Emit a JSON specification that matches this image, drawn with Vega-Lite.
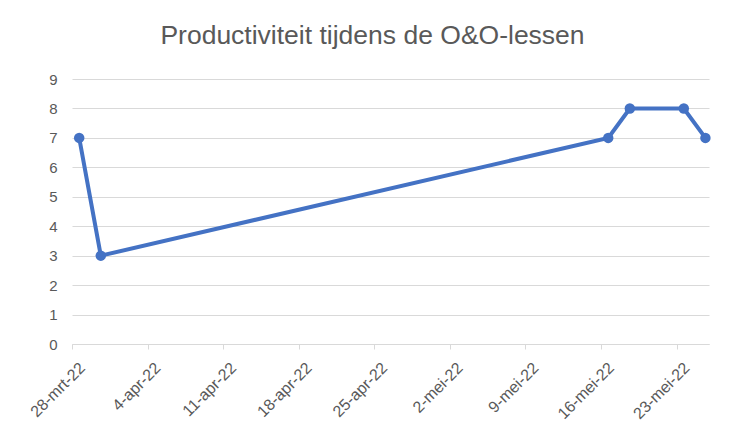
{
  "$schema": "https://vega.github.io/schema/vega-lite/v6.json",
  "autosize": "none",
  "width": 637,
  "height": 265,
  "padding": {"left": 72, "top": 79, "right": 35, "bottom": 98},
  "background": "white",
  "title": {
    "text": "Productiviteit tijdens de O&O-lessen",
    "font": "Liberation Sans",
    "fontSize": 26.5,
    "fontWeight": "normal",
    "color": "#595959",
    "anchor": "middle",
    "dx": -18,
    "offset": 23
  },
  "data": {
    "values": [
      {"datum": "2022-03-28T16:00:00", "productiviteit": 7},
      {"datum": "2022-03-30T16:00:00", "productiviteit": 3},
      {"datum": "2022-05-16T16:00:00", "productiviteit": 7},
      {"datum": "2022-05-18T16:00:00", "productiviteit": 8},
      {"datum": "2022-05-23T16:00:00", "productiviteit": 8},
      {"datum": "2022-05-25T16:00:00", "productiviteit": 7}
    ]
  },
  "mark": {"type": "line", "color": "#4472C4", "strokeWidth": 4, "point": {"filled": true, "size": 110, "color": "#4472C4", "opacity": 1}},
  "encoding": {
    "x": {
      "field": "datum",
      "type": "temporal",
      "scale": {"domain": [{"year": 2022, "month": 3, "date": 28}, {"year": 2022, "month": 5, "date": 26}], "nice": false},
      "axis": {
        "title": null,
        "grid": false,
        "values": [
          {"year": 2022, "month": 3, "date": 28},
          {"year": 2022, "month": 4, "date": 4},
          {"year": 2022, "month": 4, "date": 11},
          {"year": 2022, "month": 4, "date": 18},
          {"year": 2022, "month": 4, "date": 25},
          {"year": 2022, "month": 5, "date": 2},
          {"year": 2022, "month": 5, "date": 9},
          {"year": 2022, "month": 5, "date": 16},
          {"year": 2022, "month": 5, "date": 23}
        ],
        "labelExpr": "date(datum.value) + '-' + ['jan','feb','mrt','apr','mei','jun','jul','aug','sep','okt','nov','dec'][month(datum.value)] + '-' + timeFormat(datum.value, '%y')",
        "labelAngle": -45,
        "labelAlign": "right",
        "labelBaseline": "middle",
        "labelPadding": 16,
        "labelOffset": 10,
        "labelFont": "Liberation Sans",
        "labelFontSize": 16,
        "labelColor": "#595959",
        "labelOverlap": false,
        "labelFlush": false,
        "domainColor": "#D9D9D9",
        "domainWidth": 1,
        "tickColor": "#D9D9D9",
        "tickSize": 5,
        "tickWidth": 1
      }
    },
    "y": {
      "field": "productiviteit",
      "type": "quantitative",
      "scale": {"domain": [0, 9], "nice": false},
      "axis": {
        "title": null,
        "values": [0, 1, 2, 3, 4, 5, 6, 7, 8, 9],
        "domain": false,
        "ticks": false,
        "grid": true,
        "gridColor": "#D9D9D9",
        "gridWidth": 1,
        "labelPadding": 15,
        "labelFont": "Liberation Sans",
        "labelFontSize": 15,
        "labelColor": "#595959"
      }
    }
  },
  "config": {"view": {"stroke": null}}
}
